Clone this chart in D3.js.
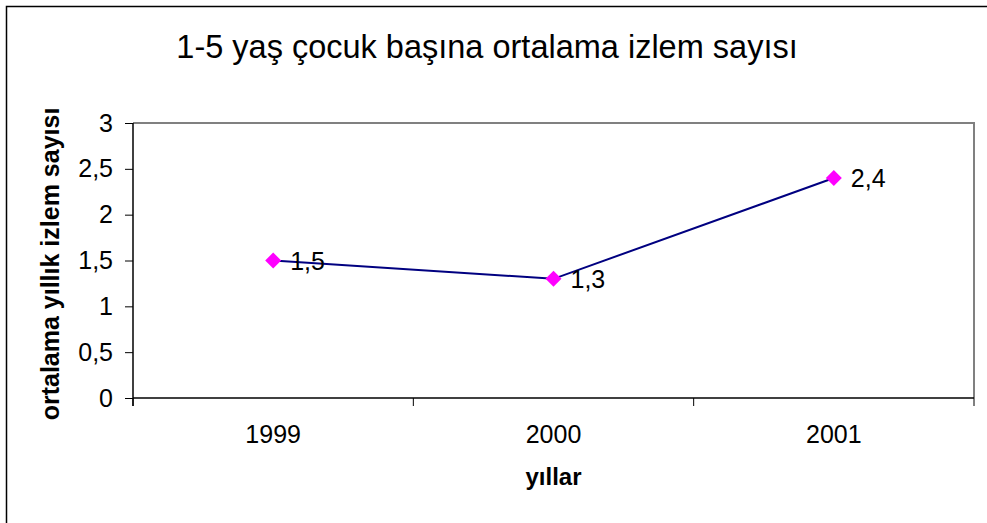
<!DOCTYPE html>
<html>
<head>
<meta charset="utf-8">
<script src="https://cdn.jsdelivr.net/npm/d3@7"></script>
<style>
  body { margin: 0; background: #fff; }
  text { font-family: "Liberation Sans", Arial, sans-serif; fill: #000; }
</style>
</head>
<body>
<div id="chart"></div>
<script>
// data
var years = ["1999", "2000", "2001"];
var values = [1.5, 1.3, 2.4];
var yTicks = [0, 0.5, 1, 1.5, 2, 2.5, 3];

var width = 987, height = 523;
var pLeft = 133, pRight = 974, pTop = 123, pBottom = 398;

var svg = d3.select("#chart").append("svg")
  .attr("width", width)
  .attr("height", height);

// outer frame (goes past the right/bottom edge)
svg.append("rect")
  .attr("x", 6.5).attr("y", 6.5)
  .attr("width", 1000).attr("height", 600)
  .style("fill", "none").style("stroke", "#000").style("stroke-width", 1.5);

var x = d3.scaleBand().domain(years).range([pLeft, pRight]);
var y = d3.scaleLinear().domain([0, 3]).range([pBottom, pTop]);

// plot area border, gray on top/right
svg.append("path")
  .attr("d", "M" + pLeft + "," + pTop + "H" + pRight + "V" + pBottom)
  .style("fill", "none").style("stroke", "#808080").style("stroke-width", 2);

// y axis
var yAxis = svg.append("g")
  .attr("transform", "translate(" + pLeft + ",0)")
  .call(d3.axisLeft(y).tickValues(yTicks).tickSize(8).tickPadding(12)
    .tickFormat(function(d){ return String(d).replace(".", ","); }));
yAxis.select(".domain").attr("d", "M0," + pTop + "V" + (pBottom + 8))
  .style("stroke", "#000").style("stroke-width", 1.5);
yAxis.selectAll("line").style("stroke", "#000");
yAxis.selectAll("text").style("font-size", "25px");
yAxis.attr("font-family", null).attr("font-size", null);

// x axis, ticks between categories
var xAxis = svg.append("g")
  .attr("transform", "translate(0," + pBottom + ")");
xAxis.append("line")
  .attr("x1", pLeft).attr("x2", pRight)
  .style("stroke", "#000").style("stroke-width", 1.5);
var edges = [pLeft].concat(years.map(function(d){ return x(d) + x.bandwidth(); }));
xAxis.selectAll(".tk").data(edges).enter().append("line")
  .attr("x1", function(d){ return d; }).attr("x2", function(d){ return d; })
  .attr("y1", 0).attr("y2", 8)
  .style("stroke", "#000");
xAxis.selectAll(".lb").data(years).enter().append("text")
  .attr("x", function(d){ return x(d) + x.bandwidth() / 2; })
  .attr("y", 45)
  .attr("text-anchor", "middle")
  .style("font-size", "25px")
  .text(function(d){ return d; });

// line
var pts = years.map(function(d, i){ return [x(d) + x.bandwidth() / 2, y(values[i])]; });
svg.append("path")
  .attr("d", d3.line()(pts))
  .style("fill", "none").style("stroke", "#000080").style("stroke-width", 2);

// markers
svg.selectAll(".mk").data(pts).enter().append("path")
  .attr("transform", function(d){ return "translate(" + d[0] + "," + d[1] + ")"; })
  .attr("d", "M0,-8L8,0L0,8L-8,0Z")
  .style("fill", "#ff00ff");

// value labels
svg.selectAll(".vl").data(pts).enter().append("text")
  .attr("x", function(d){ return d[0] + 17; })
  .attr("y", function(d){ return d[1] + 9; })
  .style("font-size", "25px")
  .text(function(d, i){ return String(values[i]).replace(".", ","); });

// title
svg.append("text")
  .attr("x", 487).attr("y", 58)
  .attr("text-anchor", "middle")
  .style("font-size", "32.5px")
  .text("1-5 yaş çocuk başına ortalama izlem sayısı");

// axis titles
svg.append("text")
  .attr("x", (pLeft + pRight) / 2).attr("y", 485)
  .attr("text-anchor", "middle")
  .style("font-size", "24px").style("font-weight", "bold")
  .text("yıllar");

svg.append("text")
  .attr("transform", "translate(59,264) rotate(-90)")
  .attr("text-anchor", "middle")
  .style("font-size", "25px").style("font-weight", "bold")
  .text("ortalama yıllık izlem sayısı");
</script>
</body>
</html>
